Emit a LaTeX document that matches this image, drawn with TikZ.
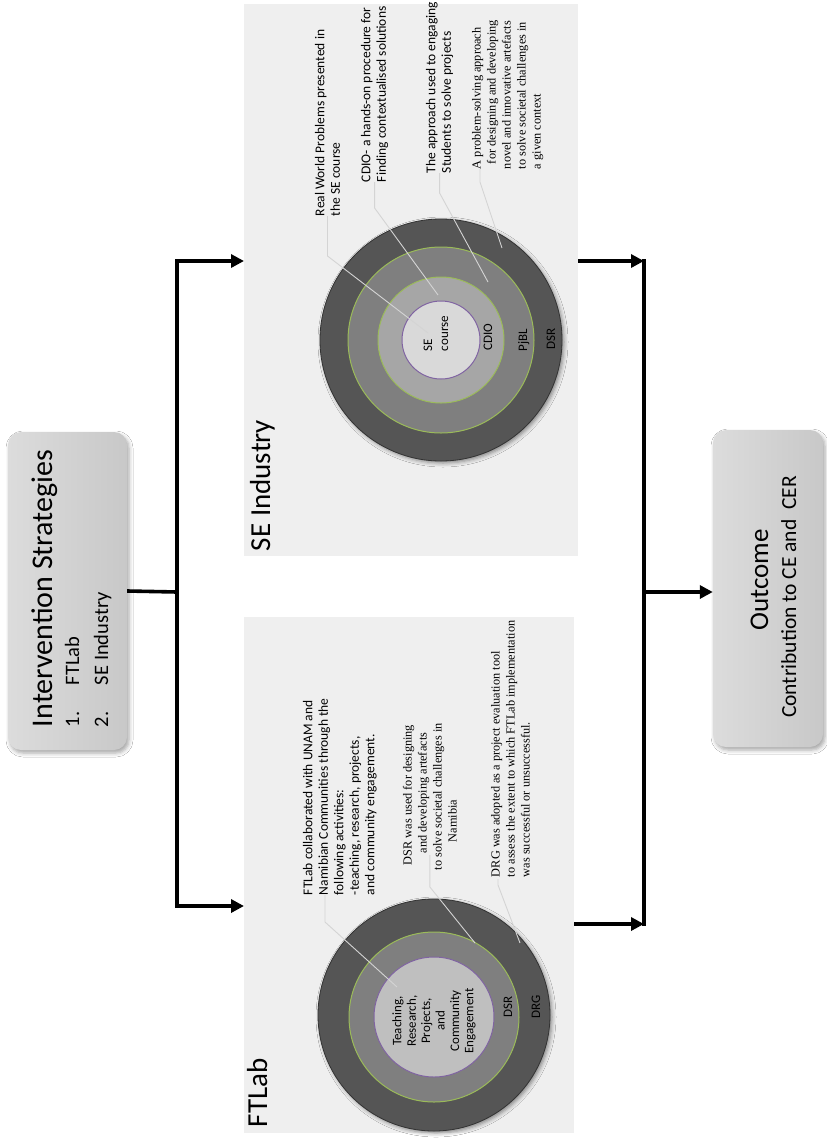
\documentclass[tikz,border=0pt]{standalone}
\usepackage{fontspec}
\setmainfont{Carlito}
\newfontfamily\seriftext{Liberation Serif}
\usetikzlibrary{arrows.meta,shadows.blur}

\definecolor{panelgray}{HTML}{EFEFEF}
\definecolor{ringdark}{HTML}{555555}
\definecolor{ringmid}{HTML}{7F7F7F}
\definecolor{ringlight}{HTML}{A6A6A6}
\definecolor{corelight}{HTML}{D9D9D9}
\definecolor{coremid}{HTML}{BFBFBF}
\definecolor{rimgreen}{HTML}{9BBB59}
\definecolor{rimpurple}{HTML}{8064A2}
\definecolor{leadergray}{HTML}{D4D4D4}
\definecolor{boxleft}{HTML}{DCDCDC}
\definecolor{boxright}{HTML}{C8C8C8}

\begin{document}
\begin{tikzpicture}[x=1pt,y=-1pt,
  rot/.style={rotate=90, inner sep=0pt, outer sep=0pt},
  sanscall/.style={rot, align=left, font=\fontsize{13.5}{15.5}\selectfont},
  serifcall/.style={rot, align=left, font=\seriftext\fontsize{12.3}{15}\selectfont},
  ringlbl/.style={rot, font=\fontsize{13}{16}\selectfont},
  paneltitle/.style={rot, anchor=base west, font=\fontsize{29}{34}\selectfont},
  panel/.style={fill=panelgray, draw=none, inner sep=0pt},
  roundbox/.style={rounded corners=13pt, left color=boxleft, right color=boxright,
    draw=none, inner sep=0pt,
    blur shadow={shadow xshift=2pt, shadow yshift=-3pt, shadow blur radius=4pt, shadow opacity=35}},
  disc/.style={circle, inner sep=0pt, outer sep=0pt},
  outerdisc/.style={disc, fill=ringdark, draw=black!80, line width=0.8pt,
    blur shadow={shadow xshift=2pt, shadow yshift=-2pt, shadow blur radius=4pt, shadow opacity=45}},
  greendisc/.style={disc, draw=rimgreen, line width=1pt},
  purpledisc/.style={disc, draw=rimpurple, line width=1pt},
  bus/.style={line width=3.6pt},
  arr/.style={bus, -{Triangle[length=13pt,width=13pt]}},
  leader/.style={draw=leadergray, line width=0.9pt}
]
% page
\fill[white] (0,0) rectangle (827,1138);
\useasboundingbox (0,0) rectangle (827,1138);

% ---------- boxes ----------
\node[roundbox, minimum width=119pt, minimum height=318pt] (ibox) at (67.5,591) {};
\node[roundbox, minimum width=110pt, minimum height=317pt] (obox) at (768,588.5) {};

\node[rot, anchor=base west, font=\fontsize{30}{36}\selectfont] (ititle) at (52,727) {Intervention Strategies};
\node[rot, anchor=base west, font=\fontsize{20.5}{24}\selectfont] (iitemA) at (79,727) {\makebox[42pt][l]{1.}FTLab};
\node[rot, anchor=base west, font=\fontsize{20.5}{24}\selectfont] (iitemB) at (108,727) {\makebox[42pt][l]{2.}SE Industry};

\node[rot, anchor=base, font=\fontsize{27}{32}\selectfont] (otitle) at (768,580) {Outcome};
\node[rot, anchor=base, font=\fontsize{21.5}{26}\selectfont] (osub) at (796,597) {Contribution to CE and\ \ CER};

% ---------- panels ----------
\node[panel, minimum width=334pt, minimum height=552pt] (sepanel) at (411,280) {};
\node[panel, minimum width=330pt, minimum height=516pt] (ftpanel) at (409,875) {};

\node[paneltitle] (setitle) at (270,551) {SE Industry};
\node[paneltitle] (fttitle) at (267,1127) {FTLab};

% ---------- SE Industry rings ----------
\node[outerdisc, minimum size=242pt] (seDSR) at (441,340) {};
\node[greendisc, fill=ringmid, minimum size=186pt] (sePJBL) at (441,340) {};
\node[greendisc, fill=ringlight, minimum size=126pt] (seCDIO) at (441,340) {};
\node[purpledisc, fill=corelight, minimum size=78pt] (seCORE) at (441,340) {};

\node[ringlbl, align=left, anchor=west] (lblcore) at (436,351) {SE\\course};
\node[ringlbl, anchor=base] (lblcdio) at (492,337) {CDIO};
\node[ringlbl, anchor=base] (lblpjbl) at (527,340) {PjBL};
\node[ringlbl, anchor=base] (lbldsrA) at (555,339) {DSR};

% ---------- FTLab rings ----------
\node[outerdisc, minimum size=232pt] (ftDRG) at (434,1015) {};
\node[greendisc, fill=ringmid, minimum size=170pt] (ftDSR) at (434,1017) {};
\node[purpledisc, fill=coremid, minimum size=120pt] (ftCORE) at (434,1017) {};

\node[ringlbl, align=center, anchor=center, font=\fontsize{13}{14.4}\selectfont] (lblact) at (434,1021)
  {Teaching,\\Research,\\Projects,\\and\\Community\\Engagement};
\node[ringlbl, anchor=base] (lbldsrB) at (512,1007) {DSR};
\node[ringlbl, anchor=base] (lbldrg) at (540,1007) {DRG};

% ---------- SE Industry callouts ----------
\node[sanscall, anchor=north west] (calA) at (315,216)
  {Real World Problems presented in\\the SE course};
\node[sanscall, anchor=north west] (calB) at (361,182)
  {CDIO- a hands-on procedure for\\Finding contextualised solutions};
\node[sanscall, anchor=north west] (calC) at (426,173)
  {The approach used to engaging\\Students to solve projects};
\node[serifcall, anchor=north west] (calD) at (472,169)
  {A problem-solving approach\\\hspace*{5pt}for designing and developing\\novel and innovative artefacts\\to solve societal challenges in\\a given context};

\coordinate (tipA) at (428,333);
\coordinate (tipB) at (438,295);
\coordinate (tipC) at (488,282);
\coordinate (tipD) at (502,248);
\draw[leader] (calA.west) -- ++(0,40) -- (tipA);
\draw[leader] (calB.west) -- ++(0,26) -- (tipB);
\draw[leader] (calC.west) -- ++(0,20) -- (tipC);
\draw[leader] ([xshift=8pt]calD.north west) -- ++(0,13) -- (tipD);

% ---------- FTLab callouts ----------
\node[sanscall, anchor=north west] (calE) at (303,895)
  {FTLab collaborated with UNAM and\\Namibian Communities through the\\following activities:\\-teaching, research, projects,\\and community engagement.};
\node[serifcall, anchor=north west] (calF) at (403,870)
  {\hspace*{5pt}DSR was used for designing\\\hspace*{17pt}and developing artefacts\\to solve societal challenges in\\\hspace*{28pt}Namibia};
\node[serifcall, anchor=north west] (calG) at (491,877)
  {DRG was adopted as a project evaluation tool\\to assess the extent to which FTLab implementation\\was successful or unsuccessful.};

\coordinate (tipE) at (397,987);
\coordinate (tipF) at (475,943);
\coordinate (tipG) at (520,943);
\draw[leader] ([xshift=22pt]calE.north west) -- ++(0,27) -- (tipE);
\draw[leader] ([yshift=15pt]calF.west) -- ++(0,32) -- (tipF);
\draw[leader] ([xshift=7pt,yshift=-2pt]calG.north west) -- ++(0,6) -- (tipG);

% ---------- connectors ----------
\coordinate (jointL) at (177,592);
\coordinate (seIn) at (244,261);
\coordinate (ftIn) at (244,906);
\draw[bus] (ibox.east) -- (jointL);
\draw[arr] (jointL) |- (seIn);
\draw[arr] (jointL) |- (ftIn);

\coordinate (seOut) at (578,261);
\coordinate (ftOut) at (574,924);
\coordinate (busTop) at (644,261);
\coordinate (busBot) at (644,924);
\coordinate (jointR) at (644,592);
\draw[arr] (seOut) -- (busTop);
\draw[arr] (ftOut) -- (busBot);
\draw[bus, line cap=rect] (busTop) -- (busBot);
\draw[arr] (jointR) -- (obox.west |- jointR);
\end{tikzpicture}
\end{document}
